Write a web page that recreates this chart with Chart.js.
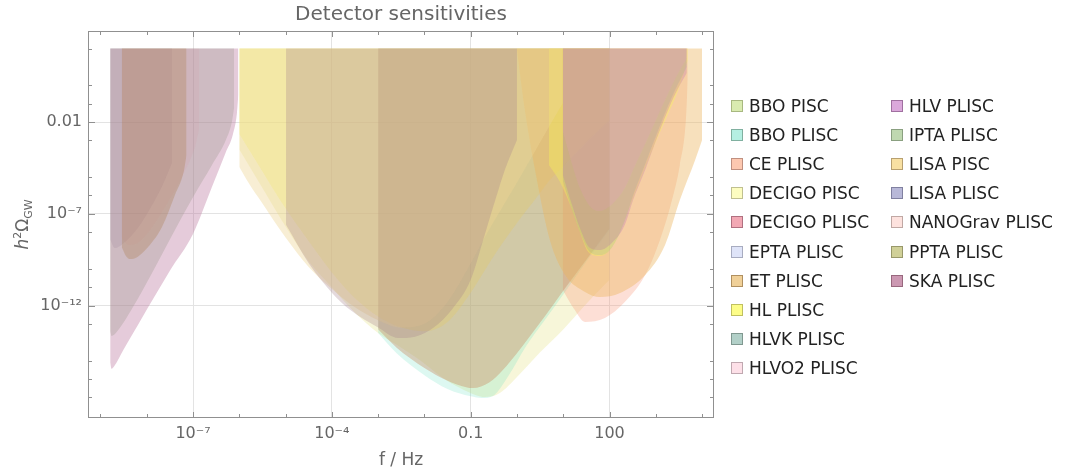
<!DOCTYPE html>
<html>
<head>
<meta charset="utf-8">
<script src="https://cdn.jsdelivr.net/npm/chart.js@4.4.1/dist/chart.umd.min.js"></script>
<style>
  body { margin: 0; background: #fff; font-family: "DejaVu Sans", sans-serif; }
  #wrap { position: relative; width: 1065px; height: 475px; }
  .lg-box { position: absolute; width: 10px; height: 10px; border: 1px solid; }
  .lg-text { position: absolute; font-size: 17px; line-height: 20px; color: #222; white-space: nowrap; }
</style>
</head>
<body>
<div id="wrap">
  <canvas id="chart" width="1065" height="475"></canvas>
  <div id="legend"></div>
</div>
<script>
// ---- sensitivity curves (f in Hz, h^2 Omega) ----
const bboPiscFreq   = [1e-6, 3.162e-6, 1e-5, 3.162e-5, 9.12e-5, 3.162e-4, 1e-3, 3.162e-3, 7.943e-3, 2.512e-2, 5.888e-2, 0.1259, 0.2042, 0.4266, 1, 3.162, 9.772, 31.62, 100];
const bboPiscOmega  = [3.16e-4, 2.51e-6, 2.0e-8, 2.51e-10, 1.26e-11, 3.98e-13, 3.16e-14, 5.01e-15, 1.07e-15, 1.12e-16, 3.16e-17, 1.32e-17, 1.02e-17, 1.7e-17, 1.26e-16, 2.82e-15, 4.68e-14, 1.26e-12, 2.51e-11];

const bboPliscFreq  = [1e-3, 2.512e-3, 1e-2, 3.162e-2, 0.1, 0.1738, 0.3162, 0.631, 1.585, 3.981, 10, 31.62, 100];
const bboPliscOmega = [3.16e-14, 2.51e-15, 1.585e-16, 2.82e-17, 1.12e-17, 9.12e-18, 1.26e-17, 1.26e-16, 6.31e-15, 1.585e-13, 3.98e-12, 2.51e-10, 1.26e-8];

const cePliscFreq   = [9.772, 17.78, 29.51, 79.43, 213.8, 588.8, 1230, 2239, 3311, 4467, 4898];
const cePliscOmega  = [6.92e-12, 5.62e-13, 1.26e-13, 2.09e-13, 1.55e-12, 4.57e-11, 3.72e-9, 5.62e-7, 4.57e-5, 1.29e-2, 1.95];

const decigoPiscFreq  = [1e-6, 1.202e-6, 3.162e-6, 7.586e-6, 3.162e-5, 1e-4, 3.162e-4, 1e-3, 3.162e-3, 1e-2, 3.162e-2, 0.1, 0.2512, 0.4266, 1, 2.512, 5.129, 9.772, 31.62, 100];
const decigoPiscOmega = [2.24e-3, 1.047e-3, 2.0e-5, 5.62e-7, 3.16e-9, 6.31e-11, 2.51e-12, 2.51e-13, 6.31e-14, 3.98e-14, 1.26e-13, 5.01e-12, 2.0e-10, 1.55e-9, 3.16e-8, 6.31e-7, 6.92e-6, 3.55e-5, 7.94e-4, 1.26e-2];

const decigoPliscFreq  = [1e-3, 2.512e-3, 1e-2, 3.162e-2, 7.943e-2, 0.1122, 0.2512, 0.5012, 1, 1.995, 3.981, 10, 31.62, 100];
const decigoPliscOmega = [5.01e-14, 5.01e-15, 3.98e-16, 7.94e-17, 3.55e-17, 3.16e-17, 6.31e-17, 3.16e-16, 2.51e-15, 2.51e-14, 2.51e-13, 6.31e-12, 3.16e-10, 1.585e-8];

const eptaFreq  = [1.622e-9, 2.042e-9, 3.162e-9, 6.31e-9, 1.259e-8, 2.239e-8, 3.548e-8];
const eptaOmega = [3.98e-9, 1.35e-9, 2.51e-9, 1.585e-8, 2.51e-7, 3.98e-6, 6.31e-5];

const etFreq  = [1, 1.479, 2.455, 5.129, 10.96, 29.51, 61.66, 169.8, 588.8, 1585, 3311, 7079, 10000];
const etOmega = [79.4, 4.47e-2, 2.4e-5, 3.72e-9, 4.57e-11, 5.5e-12, 2.88e-12, 4.79e-12, 4.57e-11, 2.0e-9, 5.62e-7, 8.51e-5, 1.05e-3];

const hlFreq  = [4.898, 8.511, 14.13, 22.91, 34.67, 61.66, 128.8, 275.4, 524.8, 955, 1738, 3020, 4898];
const hlOmega = [4.57e-5, 5.37e-6, 3.02e-7, 1e-8, 8.32e-10, 5.01e-10, 2.51e-9, 2.51e-7, 1.585e-5, 6.31e-4, 2.0e-2, 0.5, 24];

const hlvFreq   = [9.772, 15.49, 22.91, 38.02, 61.66, 112.2, 213.8, 323.6, 588.8, 1230, 2570, 4677];
const hlvkOmega = [6.31e-6, 1.585e-7, 1e-8, 7.94e-10, 5.62e-10, 1.41e-9, 3.98e-8, 1e-6, 5.01e-5, 6.31e-3, 0.5, 10];
const hlvo2Omega = [3.16e-3, 5.01e-5, 2.51e-6, 2.51e-7, 1.41e-7, 3.16e-7, 2.51e-6, 2.51e-5, 6.31e-4, 3.98e-2, 2.0, 31.6];
const hlvOmega  = [1.29e-5, 3.02e-7, 1.66e-8, 1.35e-9, 1.05e-9, 2.57e-9, 2.45e-8, 5.62e-7, 2.4e-5, 3.63e-3, 0.295, 4.68];

const iptaFreq  = [1.622e-9, 1.738e-9, 2.239e-9, 5.012e-9, 1.259e-8, 3.162e-8, 1e-7, 2.57e-7, 5.13e-7, 6.92e-7, 7.76e-7];
const iptaOmega = [3.98e-14, 2.19e-14, 3.55e-14, 7.94e-13, 5.01e-11, 3.98e-9, 7.94e-7, 4.57e-5, 1.05e-3, 1e-2, 6.31e-2];

const lisaPiscFreq  = [1e-6, 1.698e-6, 2.818e-6, 1e-5, 3.162e-5, 1e-4, 3.162e-4, 1e-3, 3.162e-3, 1e-2, 3.162e-2, 0.1, 0.1862, 1, 3.162, 9.772];
const lisaPiscOmega = [3.55e-5, 3.72e-6, 5.62e-7, 5.01e-9, 1.26e-10, 7.94e-12, 7.94e-13, 1.585e-13, 6.31e-14, 1e-13, 1.585e-12, 2.0e-10, 3.72e-9, 5.01e-6, 7.94e-4, 0.1096];

const lisaPliscFreq  = [1.023e-5, 3.162e-5, 1e-4, 2.512e-4, 1e-3, 2.692e-3, 6.31e-3, 1.585e-2, 3.981e-2, 0.1, 0.1862, 0.3548, 0.5495, 1];
const lisaPliscOmega = [2.51e-8, 2.0e-10, 5.01e-12, 5.62e-13, 6.31e-14, 1.7e-14, 2.0e-14, 6.31e-14, 6.31e-13, 2.51e-11, 3.72e-9, 7.94e-7, 2.51e-5, 1.05e-3];

const nanogravFreq  = [2.884e-9, 3.981e-9, 6.31e-9, 1.259e-8, 3.162e-8, 6.31e-8, 1.122e-7, 1.349e-7];
const nanogravOmega = [5.01e-9, 2.0e-9, 2.51e-9, 1.585e-8, 6.31e-7, 1.585e-5, 5.01e-4, 3.98e-3];

const pptaFreq  = [2.884e-9, 3.548e-9, 4.365e-9, 6.31e-9, 1e-8, 2.138e-8, 4.074e-8, 6.31e-8, 7.244e-8];
const pptaOmega = [1.55e-9, 5.01e-10, 3.39e-10, 4.47e-10, 1.26e-9, 1.905e-8, 1.047e-6, 2.0e-5, 1.585e-4];

const skaFreq  = [1.622e-9, 1.738e-9, 1.995e-9, 3.162e-9, 6.31e-9, 1.072e-8, 3.162e-8, 1e-7, 2.512e-7, 5.012e-7, 7.244e-7, 8.913e-7, 9.55e-7];
const skaOmega = [7.94e-16, 3.55e-16, 5.01e-16, 3.98e-15, 7.94e-14, 7.94e-13, 7.94e-11, 7.94e-9, 2.51e-6, 2.0e-4, 2.0e-3, 3.16e-2, 0.316];

const labels = ["BBO PISC", "BBO PLISC", "CE PLISC", "DECIGO PISC", "DECIGO PLISC", "EPTA PLISC",
  "ET PLISC", "HL PLISC", "HLVK PLISC", "HLVO2 PLISC", "HLV PLISC", "IPTA PLISC", "LISA PISC",
  "LISA PLISC", "NANOGrav PLISC", "PPTA PLISC", "SKA PLISC"];
const curves = [
  [bboPiscFreq, bboPiscOmega], [bboPliscFreq, bboPliscOmega], [cePliscFreq, cePliscOmega],
  [decigoPiscFreq, decigoPiscOmega], [decigoPliscFreq, decigoPliscOmega], [eptaFreq, eptaOmega],
  [etFreq, etOmega], [hlFreq, hlOmega], [hlvFreq, hlvkOmega], [hlvFreq, hlvo2Omega],
  [hlvFreq, hlvOmega], [iptaFreq, iptaOmega], [lisaPiscFreq, lisaPiscOmega],
  [lisaPliscFreq, lisaPliscOmega], [nanogravFreq, nanogravOmega], [pptaFreq, pptaOmega],
  [skaFreq, skaOmega]
];
// translucent fills used inside the plot
const fillColors = [
  "rgba(230,225,130,0.30)", "rgba(100,225,190,0.22)", "rgba(250,150,120,0.30)",
  "rgba(245,240,110,0.35)", "rgba(200,140,100,0.40)", "rgba(150,140,170,0.25)",
  "rgba(235,180,95,0.42)", "rgba(250,245,80,0.35)", "rgba(120,170,160,0.20)",
  "rgba(250,170,200,0.20)", "rgba(180,100,180,0.25)", "rgba(140,175,130,0.32)",
  "rgba(237,212,147,0.40)", "rgba(165,130,140,0.30)", "rgba(230,150,160,0.12)",
  "rgba(170,140,50,0.35)", "rgba(187,117,157,0.38)"
];
// legend swatches
const swatchColors = ["#d9ebb0", "#b5efe2", "#fdc8b0", "#fdfdc0", "#f2a8b4", "#dfe4f8", "#f0d098",
  "#fdfd88", "#b2d0c8", "#fde0e8", "#dba8db", "#bfd8b0", "#f8e0a2", "#b8b8d8", "#fde2de", "#d0d098", "#cc98b2"];
const swatchBorders = ["#a8b880", "#80b0a0", "#c09080", "#c0c090", "#b07080", "#a8acc0", "#b09060",
  "#c0c060", "#809890", "#c0a8b0", "#a070a0", "#8aa080", "#b8a070", "#8080a0", "#c0a8a4", "#98986a", "#98687e"];

const xTickVals = [1e-7, 1e-4, 0.1, 100];
const xTickText = ["10\u207B\u2077", "10\u207B\u2074", "0.1", "100"];
const yTickVals = [1e-2, 1e-7, 1e-12];
const yTickText = ["0.01", "10\u207B\u2077", "10\u207B\u00B9\u00B2"];

const datasets = curves.map(([fs, om], i) => ({
  label: labels[i],
  data: fs.map((f, k) => ({ x: f, y: om[k] })),
  backgroundColor: fillColors[i],
  borderColor: "rgba(0,0,0,0)",
  borderWidth: 0,
  pointRadius: 0,
  cubicInterpolationMode: "monotone",
  fill: { value: 100 },
  order: curves.length - i
}));

// frame, inward tick marks and titles
const framePlugin = {
  id: "frame",
  afterDraw(chart) {
    const { ctx, chartArea: a } = chart;
    const xs = chart.scales.x, ys = chart.scales.y;
    ctx.save();
    ctx.strokeStyle = "#909090";
    ctx.lineWidth = 1;
    ctx.strokeRect(a.left + 0.5, a.top + 0.5, a.right - a.left - 1, a.bottom - a.top - 1);
    ctx.beginPath();
    for (let n = -9; n <= 4; n++) {
      const px = Math.round(xs.getPixelForValue(Math.pow(10, n))) + 0.5;
      const len = [-7, -4, -1, 2].includes(n) ? 6 : 4;
      ctx.moveTo(px, a.bottom); ctx.lineTo(px, a.bottom - len);
      ctx.moveTo(px, a.top); ctx.lineTo(px, a.top + len);
    }
    for (let n = -17; n <= 2; n++) {
      if (((n + 2) % 5 + 5) % 5 === 3) continue;
      const py = Math.round(ys.getPixelForValue(Math.pow(10, n))) + 0.5;
      const len = [-2, -7, -12].includes(n) ? 7 : 4;
      ctx.moveTo(a.left, py); ctx.lineTo(a.left + len, py);
      ctx.moveTo(a.right, py); ctx.lineTo(a.right - len, py);
    }
    ctx.stroke();

    ctx.fillStyle = "#666";
    ctx.textAlign = "center";
    ctx.textBaseline = "middle";
    ctx.font = '20px "DejaVu Sans"';
    ctx.fillText("Detector sensitivities", (a.left + a.right) / 2, 15);
    ctx.font = '17px "DejaVu Sans"';
    ctx.fillText("f / Hz", (a.left + a.right) / 2, 461);

    // y title: h^2 Omega_GW, rotated
    ctx.translate(28, (a.top + a.bottom) / 2);
    ctx.rotate(-Math.PI / 2);
    ctx.textAlign = "left";
    ctx.textBaseline = "alphabetic";
    const parts = [
      ['italic 17px "DejaVu Sans"', "h", 0],
      ['11px "DejaVu Sans"', "2", -7],
      ['17px "DejaVu Sans"', "\u03A9", 0],
      ['11px "DejaVu Sans"', "GW", 4]
    ];
    let w = 0;
    parts.forEach(p => { ctx.font = p[0]; w += ctx.measureText(p[1]).width; });
    let cx = -w / 2;
    parts.forEach(p => { ctx.font = p[0]; ctx.fillText(p[1], cx, p[2]); cx += ctx.measureText(p[1]).width; });
    ctx.restore();
  }
};

const chart = new Chart(document.getElementById("chart"), {
  type: "line",
  data: { datasets: datasets },
  options: {
    responsive: false,
    devicePixelRatio: 1,
    animation: false,
    events: [],
    layout: { padding: { left: 0, right: 351, top: 31, bottom: 0 } },
    plugins: { legend: { display: false }, tooltip: { enabled: false }, title: { display: false } },
    scales: {
      x: {
        type: "logarithmic",
        min: 5.38e-10,
        max: 1.81e4,
        afterBuildTicks: s => { s.ticks = xTickVals.map(v => ({ value: v })); },
        afterFit: s => { s.height = 57; },
        border: { display: false },
        grid: { color: "#e3e3e3", drawTicks: false },
        ticks: {
          autoSkip: false, maxRotation: 0, padding: 6, color: "#666",
          font: { family: "DejaVu Sans", size: 16 },
          callback: v => xTickText[xTickVals.indexOf(v)] || ""
        }
      },
      y: {
        type: "logarithmic",
        min: 7.41e-19,
        max: 912,
        afterBuildTicks: s => { s.ticks = yTickVals.map(v => ({ value: v })); },
        afterFit: s => { s.width = 88; },
        border: { display: false },
        grid: { color: "#e3e3e3", drawTicks: false },
        ticks: {
          autoSkip: false, padding: 6, color: "#666",
          font: { family: "DejaVu Sans", size: 16 },
          callback: v => yTickText[yTickVals.indexOf(v)] || ""
        }
      }
    }
  },
  plugins: [framePlugin]
});

// two-column legend beside the plot
const legendEl = document.getElementById("legend");
labels.forEach((name, i) => {
  const col = i < 10 ? 0 : 1;
  const row = i < 10 ? i : i - 10;
  const cy = 106 + row * 29.1;
  const bx = col === 0 ? 731 : 891;
  const box = document.createElement("div");
  box.className = "lg-box";
  box.style.left = bx + "px";
  box.style.top = (cy - 6) + "px";
  box.style.background = swatchColors[i];
  box.style.borderColor = swatchBorders[i];
  const txt = document.createElement("div");
  txt.className = "lg-text";
  txt.style.left = (bx + 18) + "px";
  txt.style.top = (cy - 10) + "px";
  txt.textContent = name;
  legendEl.appendChild(box);
  legendEl.appendChild(txt);
});
</script>
</body>
</html>
